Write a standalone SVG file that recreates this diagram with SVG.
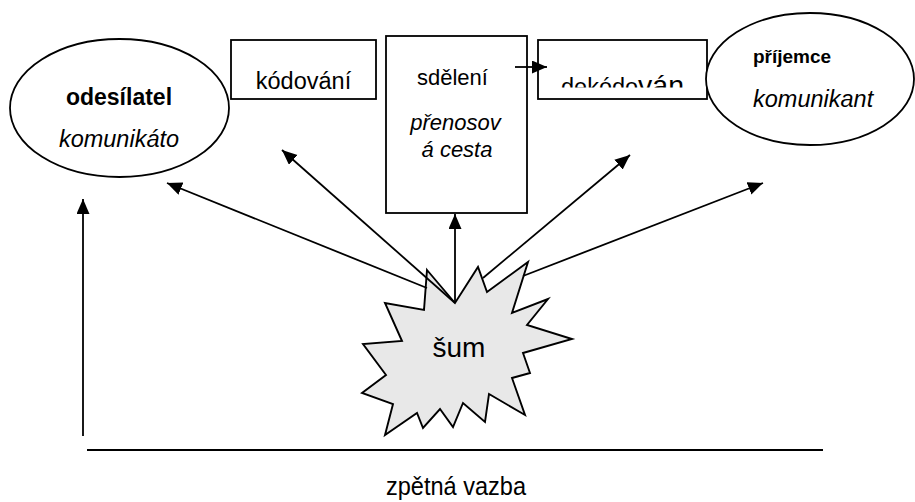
<svg xmlns="http://www.w3.org/2000/svg" width="915" height="502" viewBox="0 0 915 502">
<style>
text{font-family:"Liberation Sans",Arial,sans-serif;fill:#000}
.shape{fill:#fff;stroke:#000;stroke-width:1.8}
.b{font-weight:bold}
.i{font-style:italic}
.ln{stroke:#000;stroke-width:1.8;fill:none}
</style>
<defs>
<marker id="ah" markerUnits="userSpaceOnUse" markerWidth="16" markerHeight="14" refX="15" refY="6.5" orient="auto">
<path d="M0,0 L15,6.5 L0,13 z" fill="#000"/>
</marker>
<clipPath id="clipDek"><rect x="538" y="40" width="169" height="47.5"/></clipPath>
</defs>
<rect width="915" height="502" fill="#fff"/>
<g id="odesilatel">
<ellipse class="shape" cx="119.5" cy="108" rx="109.5" ry="69"/>
<text class="b" x="119" y="105" font-size="23" text-anchor="middle">odesílatel</text>
<text class="i" x="119" y="147" font-size="23.5" text-anchor="middle">komunikáto</text>
</g>
<g id="kodovani">
<rect class="shape" x="231" y="40" width="145" height="59"/>
<text x="303.5" y="89" font-size="23.5" text-anchor="middle">kódování</text>
</g>
<g id="sdeleni">
<rect class="shape" x="386" y="36" width="141" height="177"/>
<text x="452.5" y="85" font-size="22" text-anchor="middle">sdělení</text>
<text class="i" x="455.5" y="130" font-size="22" text-anchor="middle">přenosov</text>
<text class="i" x="457" y="157" font-size="22" text-anchor="middle">á cesta</text>
</g>
<g id="dekodovani">
<rect class="shape" x="538" y="40" width="169" height="59"/>
<text clip-path="url(#clipDek)" x="561" y="95" font-size="23.5">dekódo<tspan font-size="28.5">ván</tspan></text>
</g>
<g id="prijemce">
<ellipse class="shape" cx="810" cy="79" rx="104" ry="66"/>
<text class="b" x="753" y="63" font-size="19">příjemce</text>
<text class="i" x="753" y="107" font-size="23.5">komunikant</text>
</g>
<g id="sum">
<polygon points="427,270 455,303 478,267 487,292 528,262 512,313 548,299 527,325 572,339 523,353 530,373 512,378 525,415 489,394 485,422 463,403 453,427 440,409 423,428 417,413 385,435 393,404 362,393 386,375 363,344 402,341 385,303 424,310" fill="#e8e8e8" stroke="#000" stroke-width="1.9" stroke-linejoin="miter"/>
<text x="459" y="357" font-size="28" text-anchor="middle">šum</text>
</g>
<g id="connectors">
<line class="ln" x1="515" y1="67" x2="547" y2="67" marker-end="url(#ah)"/>
<line class="ln" x1="455" y1="303" x2="282" y2="150" marker-end="url(#ah)"/>
<line class="ln" x1="427" y1="288" x2="167" y2="183" stroke-width="2.5" marker-end="url(#ah)"/>
<line class="ln" x1="455" y1="303" x2="455" y2="214" marker-end="url(#ah)"/>
<line class="ln" x1="483" y1="278" x2="630" y2="155" marker-end="url(#ah)"/>
<line class="ln" x1="523" y1="276" x2="763" y2="183" marker-end="url(#ah)"/>
<line class="ln" x1="83" y1="436" x2="83" y2="199" stroke-width="2.2" marker-end="url(#ah)"/>
<line class="ln" x1="87" y1="450" x2="823" y2="450" stroke-width="3"/>
</g>
<g id="zpetna-vazba">
<text x="456" y="495" font-size="25" text-anchor="middle" textLength="140" lengthAdjust="spacingAndGlyphs">zpětná vazba</text>
</g>
</svg>
